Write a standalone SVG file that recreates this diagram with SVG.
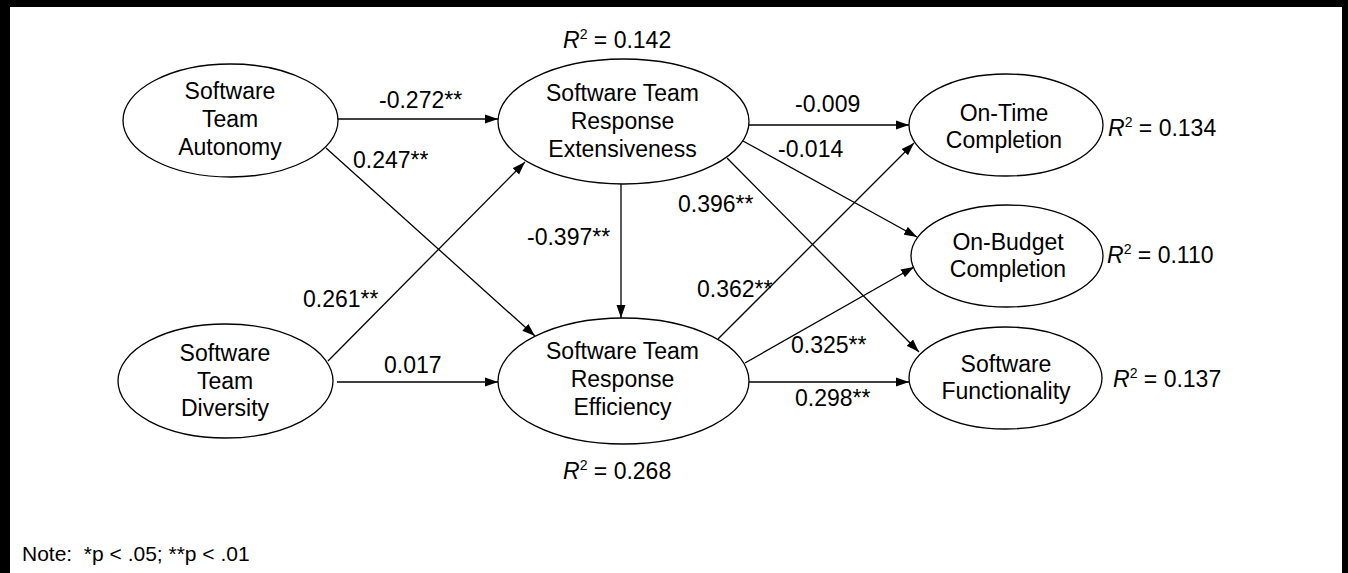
<svg xmlns="http://www.w3.org/2000/svg" width="1348" height="573" viewBox="0 0 1348 573">
<defs>
<marker id="ah" markerUnits="userSpaceOnUse" markerWidth="14" markerHeight="10" refX="13" refY="5" orient="auto">
<path d="M0,0.5 L13,5 L0,9.5 z" fill="#000"/>
</marker>
<style>
text{font-family:"Liberation Sans",Arial,sans-serif;font-size:23px;fill:#000}
.c{text-anchor:middle}
.n ellipse{fill:#fff;stroke:#000;stroke-width:1.3}
#connectors line{stroke:#000;stroke-width:1.3;marker-end:url(#ah)}
.i{font-style:italic}
.s{font-size:14px}
.note{font-size:21px}
</style>
</defs>
<rect x="0" y="0" width="1348" height="573" fill="#fff"/>
<g id="frame" fill="#000">
<rect x="0" y="0" width="1348" height="7"/>
<rect x="0" y="0" width="10" height="573"/>
<rect x="1342" y="0" width="6" height="573"/>
</g>
<g id="connectors">
<line x1="337" y1="119" x2="498" y2="119"/>
<line x1="326" y1="148" x2="535" y2="336"/>
<line x1="328" y1="361" x2="525" y2="162"/>
<line x1="337" y1="382" x2="498" y2="382"/>
<line x1="621" y1="184" x2="621" y2="318"/>
<line x1="749" y1="125" x2="909" y2="125"/>
<line x1="743" y1="141" x2="917" y2="237"/>
<line x1="727" y1="158" x2="919" y2="352"/>
<line x1="718" y1="339" x2="914" y2="143"/>
<line x1="745" y1="363" x2="914" y2="267"/>
<line x1="749" y1="382" x2="909" y2="382"/>
</g>
<g id="labels">
<text x="379" y="108">-0.272**</text>
<text x="353" y="168">0.247**</text>
<text x="303" y="307">0.261**</text>
<text x="384" y="373">0.017</text>
<text x="527" y="245">-0.397**</text>
<text x="795" y="112">-0.009</text>
<text x="778" y="157">-0.014</text>
<text x="678" y="212">0.396**</text>
<text x="697" y="297">0.362**</text>
<text x="791" y="353">0.325**</text>
<text x="795" y="406">0.298**</text>
</g>
<g id="autonomy" class="n">
<ellipse cx="230.5" cy="120.5" rx="107.5" ry="56.5"/>
<text class="c" x="230" y="99">Software</text>
<text class="c" x="230" y="127">Team</text>
<text class="c" x="230" y="155">Autonomy</text>
</g>
<g id="diversity" class="n">
<ellipse cx="225.5" cy="381" rx="107.5" ry="57"/>
<text class="c" x="225" y="361">Software</text>
<text class="c" x="225" y="389">Team</text>
<text class="c" x="225" y="416">Diversity</text>
</g>
<g id="extensiveness" class="n">
<ellipse cx="623.5" cy="121.5" rx="125.5" ry="62.5"/>
<text class="c" x="622.5" y="101">Software Team</text>
<text class="c" x="622.5" y="129">Response</text>
<text class="c" x="622.5" y="157">Extensiveness</text>
<text x="563" y="48"><tspan class="i">R</tspan><tspan class="s" dy="-9">2</tspan><tspan dy="9"> = 0.142</tspan></text>
</g>
<g id="efficiency" class="n">
<ellipse cx="623.5" cy="381" rx="125.5" ry="63"/>
<text class="c" x="622.5" y="359">Software Team</text>
<text class="c" x="622.5" y="387">Response</text>
<text class="c" x="622.5" y="415">Efficiency</text>
<text x="563" y="479"><tspan class="i">R</tspan><tspan class="s" dy="-9">2</tspan><tspan dy="9"> = 0.268</tspan></text>
</g>
<g id="ontime" class="n">
<ellipse cx="1006" cy="125" rx="97" ry="51"/>
<text class="c" x="1004" y="121">On-Time</text>
<text class="c" x="1004" y="148">Completion</text>
<text x="1108" y="136"><tspan class="i">R</tspan><tspan class="s" dy="-9">2</tspan><tspan dy="9"> = 0.134</tspan></text>
</g>
<g id="onbudget" class="n">
<ellipse cx="1007" cy="256" rx="96" ry="51"/>
<text class="c" x="1008" y="250">On-Budget</text>
<text class="c" x="1008" y="277">Completion</text>
<text x="1107" y="263"><tspan class="i">R</tspan><tspan class="s" dy="-9">2</tspan><tspan dy="9"> = 0.110</tspan></text>
</g>
<g id="functionality" class="n">
<ellipse cx="1005.5" cy="378" rx="96.5" ry="51"/>
<text class="c" x="1006" y="372">Software</text>
<text class="c" x="1006" y="399">Functionality</text>
<text x="1113" y="387"><tspan class="i">R</tspan><tspan class="s" dy="-9">2</tspan><tspan dy="9"> = 0.137</tspan></text>
</g>
<text class="note" x="22" y="561">Note:&#160; *p &lt; .05; **p &lt; .01</text>
</svg>
